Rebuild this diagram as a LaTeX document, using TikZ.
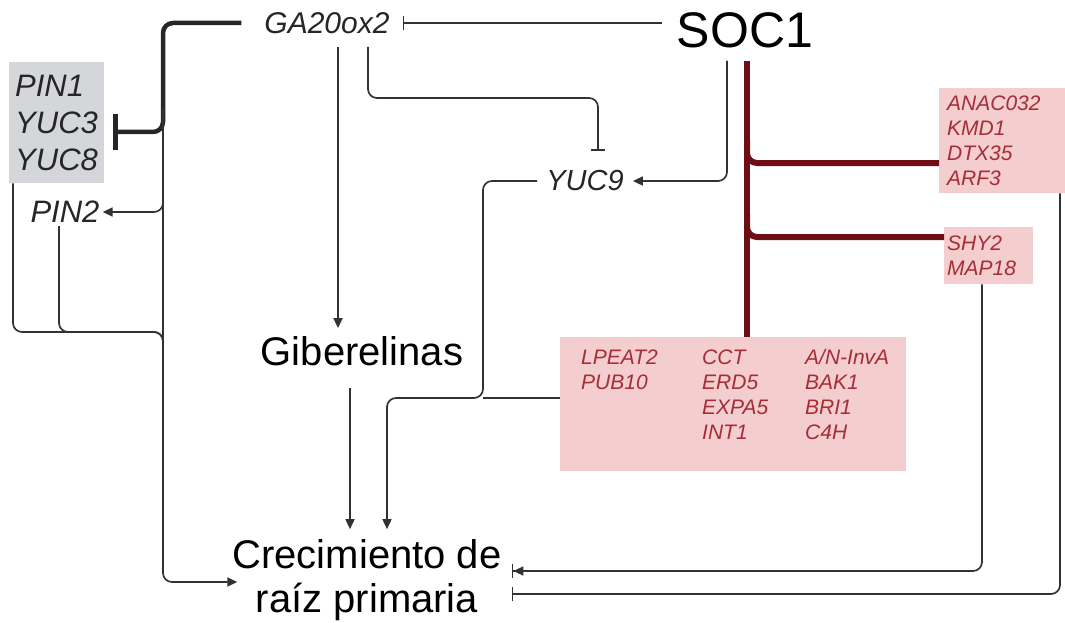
\documentclass[tikz,border=0pt]{standalone}
\usepackage{fontspec}
\setmainfont{Liberation Sans}
\usetikzlibrary{arrows.meta}

\definecolor{genered}{RGB}{165,45,55}
\definecolor{genebox}{RGB}{244,205,206}
\definecolor{regline}{RGB}{110,14,20}
\definecolor{pingrey}{RGB}{212,214,218}
\definecolor{linegrey}{RGB}{50,50,50}

\begin{document}
\begin{tikzpicture}[x=1pt, y=-1pt,
  link/.style={draw=linegrey, line width=1.7pt, rounded corners=9pt},
  act/.style={link, -{Triangle[length=10pt, width=9pt]}},
  inh/.style={link, -{Bar[width=14pt]}},
  actinh/.style={link, -{Triangle[length=10pt, width=9pt]Bar[width=14pt]}},
  reg/.style={draw=regline, line width=6pt, rounded corners=10pt},
  gene/.style={fill=genebox, text=genered, align=left, anchor=north west}]

\useasboundingbox (0,0) rectangle (1065,623);

\node[inner xsep=15pt, inner ysep=13pt, font=\fontsize{50}{50}\selectfont] (soc) at (745,30) {SOC1};
\node[inner sep=13pt, text=black!85, font=\fontsize{30}{30}\selectfont\itshape] (ga) at (327,23) {GA20ox2};
\node[inner xsep=9pt, inner ysep=20pt, text=black!85, font=\fontsize{29}{29}\selectfont\itshape] (yuc9) at (585,181) {YUC9};
\node[inner sep=8pt, font=\fontsize{40}{40}\selectfont] (gib) at (362,351) {Giberelinas};
\node[inner sep=10pt, align=center, font=\fontsize{40}{44}\selectfont] (crec) at (367,580) {Crecimiento de\\raíz primaria};

\node[fill=pingrey, anchor=north west, minimum width=94pt, minimum height=121pt, inner xsep=6pt,
  align=left, text=black!85, font=\fontsize{31}{37}\selectfont\itshape] (pinbox) at (9,62) {PIN1\\YUC3\\YUC8};
\node[inner sep=3pt, text=black!85, font=\fontsize{31}{31}\selectfont\itshape] (pin2) at (65,212) {PIN2};

\node[gene, text width=110pt, inner xsep=8pt, minimum height=105pt,
  font=\fontsize{21}{25}\selectfont\itshape] (anac) at (939,88) {ANAC032\\KMD1\\DTX35\\ARF3};
\node[gene, text width=83pt, inner xsep=3pt, minimum height=57pt,
  font=\fontsize{21}{25}\selectfont\itshape] (shy) at (944,227) {SHY2\\MAP18};
\node[gene, text width=304pt, inner xsep=21pt, inner ysep=0pt, text height=27.5pt, text depth=106.5pt,
  font=\fontsize{21}{25}\selectfont\itshape] (lpeat) at (560,337) {%
  \begin{tabular}[t]{@{}p{121pt}@{}p{103pt}@{}l@{}}
  LPEAT2 & CCT & \mbox{A/N-InvA}\\
  PUB10 & ERD5 & BAK1\\
  & EXPA5 & BRI1\\
  & INT1 & C4H
  \end{tabular}};

\coordinate (trunk) at (163,0);
\coordinate (mid) at (483,0);
\coordinate (red) at (747,0);

% GA20ox2 side
\draw[draw=black!85, line width=4.5pt, rounded corners=10pt, -{Bar[width=36pt]}]
  ([xshift=-10pt]ga.west) -- (trunk |- ga) -- (trunk |- 0,132) -- ([xshift=9pt]pinbox.east |- 0,132);
\draw[act] (trunk |- 0,108) -- (trunk |- 0,582) -- ([xshift=15pt]crec.west |- 0,582);
\draw[act] (trunk |- 0,190) -- (trunk |- pin2) -- (pin2.east);
\draw[link] (pinbox.south -| 13,0) -- (13,332) -- (trunk |- 0,332) -- (trunk |- 0,360);
\draw[link] (pin2.south -| 59,0) -- (59,332) -- (trunk |- 0,332) -- (trunk |- 0,360);

\draw[act] (ga.south -| 338,0) -- (gib.north -| 338,0);
\draw[act, shorten <=14pt] (gib.south -| 350,0) -- (crec.north -| 350,0);
\draw[inh] (ga.south -| 368,0) -- (368,98) -- (598,98) -- (yuc9.north -| 598,0);

% SOC1 side
\draw[inh] (soc.west |- ga) -- (ga.east);
\draw[act] (soc.south -| 727,0) -- (727,0 |- yuc9.east) -- (yuc9.east);
\draw[act] (yuc9.west) -- (mid |- yuc9.west) -- (mid |- 0,398) -- (387,398) -- (crec.north -| 387,0);
\draw[link] (lpeat.west |- 0,398) -- (mid |- 0,398);

\draw[reg] (soc.south -| red) -- (lpeat.north -| red);
\draw[reg] (red |- 0,140) -- (red |- 0,163) -- (anac.west |- 0,163);
\draw[reg] (red |- 0,214) -- (red |- 0,237) -- (shy.west |- 0,237);

\draw[actinh] (shy.south -| 982,0) -- (982,571) -- (crec.east |- 0,571);
\draw[inh] (anac.south -| 1060,0) -- (1060,594) -- (crec.east |- 0,594);

\end{tikzpicture}
\end{document}
